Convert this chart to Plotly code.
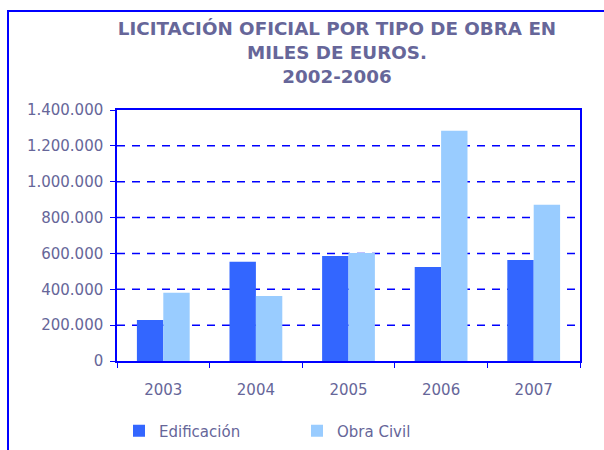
import plotly.graph_objects as go

# Licitación oficial por tipo de obra (miles de euros)
years = ["2003", "2004", "2005", "2006", "2007"]
edificacion = [229000, 553000, 586000, 525000, 564000]
obra_civil = [381000, 363000, 603000, 1284000, 871000]
y_ticks = [0, 200000, 400000, 600000, 800000, 1000000, 1200000, 1400000]

TEXT = "#666699"
BLUE = "#0000FF"
GRID = "#0000FF"
FONT = "DejaVu Sans, Verdana, sans-serif"

fig = go.Figure()
fig.add_trace(go.Bar(name="Edificación", x=years, y=edificacion,
                     marker=dict(color="#3366FF", line=dict(width=0))))
fig.add_trace(go.Bar(name="Obra Civil", x=years, y=obra_civil,
                     marker=dict(color="#99CCFF", line=dict(width=0))))

# plot area in pixels: left 117, right 580, top 110, bottom 361
L, R, T, B = 117, 580, 110, 361
W, H = R - L, B - T
px = lambda x: (x - L) / W
py = lambda y: (B - y) / H

# dashed horizontal gridlines behind the bars, one per inner y tick
grid_shapes = [
    dict(type="line", xref="paper", yref="y", x0=0, x1=1, y0=v, y1=v,
         line=dict(color=GRID, width=1.5, dash="8px,7px"), layer="below")
    for v in y_ticks[1:-1]
]

frame = dict(
    type="rect", xref="paper", yref="paper",
    x0=px(8), x1=px(620), y0=py(470), y1=py(11),
    line=dict(color=BLUE, width=2), fillcolor="rgba(0,0,0,0)",
    layer="below",
)

fig.update_layout(
    width=604, height=450,
    margin=dict(l=L, r=604 - R, t=T, b=450 - B, pad=0, autoexpand=False),
    paper_bgcolor="white", plot_bgcolor="white",
    separators=",.",
    barmode="group", bargap=0.43, bargroupgap=0,
    font=dict(family=FONT, color=TEXT, size=15),
    title=dict(
        text="<b>LICITACIÓN OFICIAL POR TIPO DE OBRA EN<br>MILES DE EUROS.<br>2002-2006</b>",
        x=px(337), xref="paper", xanchor="center",
        y=1 - 35 / 450, yref="container", yanchor="top",
        font=dict(family=FONT, size=18.3, color=TEXT),
    ),
    legend=dict(
        orientation="h", x=px(119), xanchor="left",
        y=py(431), yanchor="middle",
        font=dict(family=FONT, size=15, color=TEXT),
        entrywidth=133, bgcolor="rgba(0,0,0,0)",
        itemclick=False,
    ),
    xaxis=dict(
        showline=True, linecolor=BLUE, linewidth=1.5, mirror=True,
        ticks="outside", ticklen=5, tickcolor=BLUE, tickwidth=1,
        tickson="boundaries", showgrid=False,
        ticklabelstandoff=14,
        tickfont=dict(family=FONT, size=15, color=TEXT),
    ),
    yaxis=dict(
        range=[0, 1400000], tickvals=y_ticks, tickformat=",d",
        showline=True, linecolor=BLUE, linewidth=1.5, mirror=True,
        ticks="outside", ticklen=5, tickcolor=BLUE, tickwidth=1,
        showgrid=False, zeroline=False, ticklabelstandoff=4,
        tickfont=dict(family=FONT, size=15, color=TEXT),
    ),
    shapes=grid_shapes + [frame],
)

fig.write_html("out.html")
